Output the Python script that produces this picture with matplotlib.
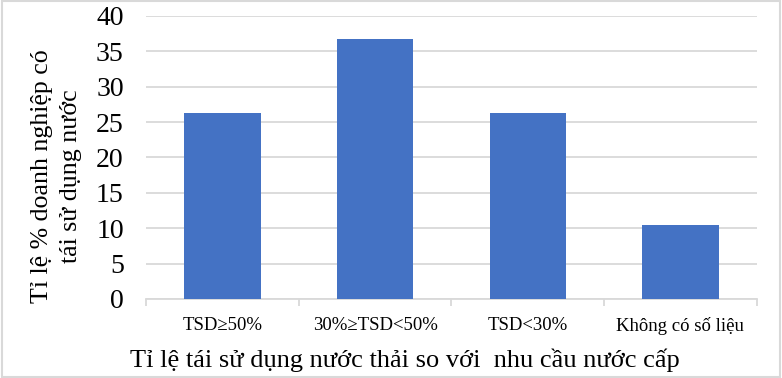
import matplotlib
matplotlib.use("Agg")
import matplotlib.pyplot as plt
import numpy as np

# data
categories = ['TSD\u226550%', '30%\u2265TSD<50%', 'TSD<30%', 'Không có số liệu']
values = [26.3, 36.8, 26.3, 10.5]
yticks = [0, 5, 10, 15, 20, 25, 30, 35, 40]

plt.rcParams['font.family'] = ['Liberation Serif', 'DejaVu Serif']

fig = plt.figure(figsize=(7.82, 3.78), dpi=100)
ax = fig.add_axes([0.1867, 0.209, 0.781, 0.749])

x = np.arange(len(categories))
ax.bar(x, values, width=0.5, color='#4472c4', zorder=3)

ax.set_xlim(-0.5, len(categories) - 0.5)
ax.set_ylim(0, 40)
ax.set_yticks(yticks)
ax.tick_params(axis='y', length=0, labelsize=20, pad=16)
ax.yaxis.grid(True, color='#d9d9d9', linewidth=1.3, zorder=0)

ax.set_xticks(x)
ax.set_xticklabels(categories)
ax.tick_params(axis='x', which='major', length=0, labelsize=13.5, pad=13)
ax.set_xticks(np.arange(-0.5, len(categories)), minor=True)
ax.tick_params(axis='x', which='minor', length=5, color='#d9d9d9', width=1.3)

for s in ['top', 'right', 'left']:
    ax.spines[s].set_visible(False)
ax.spines['bottom'].set_color('#d9d9d9')
ax.spines['bottom'].set_linewidth(1.3)

fig.text(0.072, 0.534, 'Tỉ lệ % doanh nghiệp có\ntái sử dụng nước', rotation=90,
         ha='center', va='center', fontsize=18.6, linespacing=1.4)
fig.text(0.518, 0.047, 'Tỉ lệ tái sử dụng nước thải so với  nhu cầu nước cấp',
         ha='center', va='center', fontsize=19)

# light frame around the figure
fig.patches.append(plt.Rectangle((0.002, 0.003), 0.996, 0.994, transform=fig.transFigure,
                                 fill=False, edgecolor='#d9d9d9', linewidth=1.5))

fig.savefig('out.png', dpi=100)
